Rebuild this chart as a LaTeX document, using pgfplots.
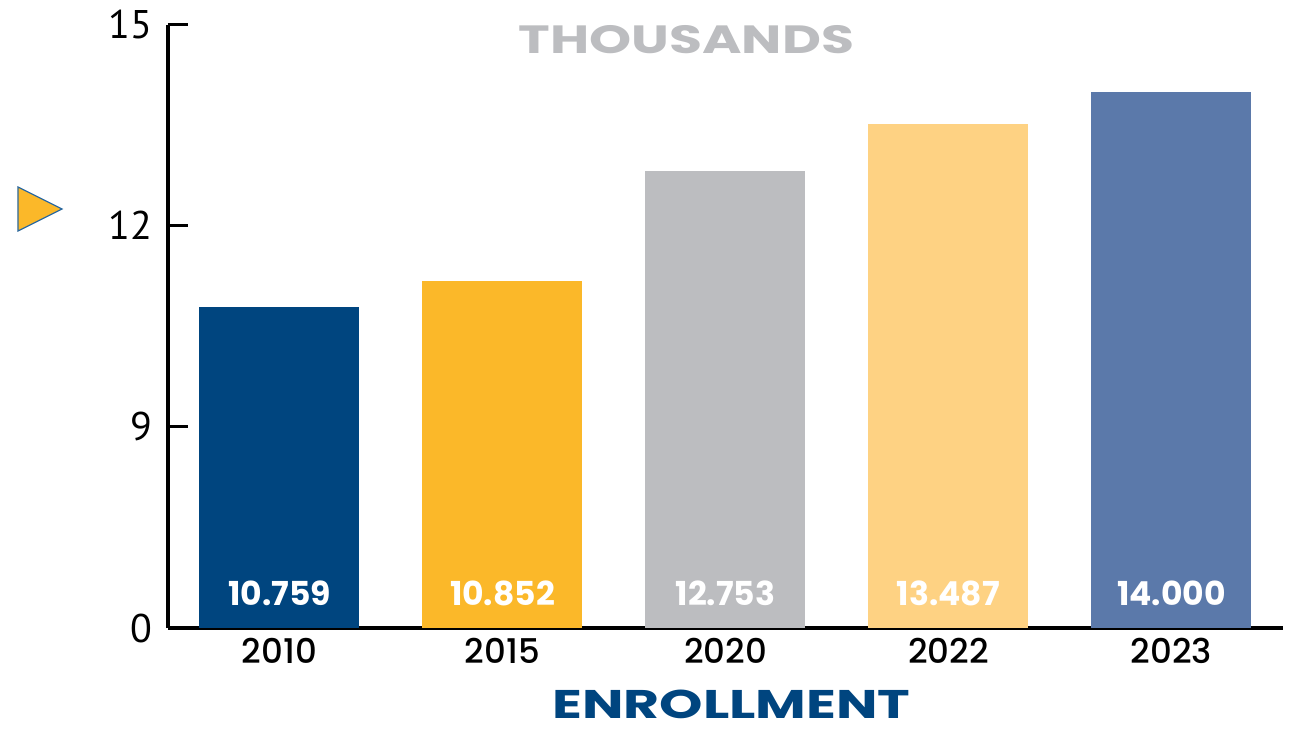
\documentclass[border=0pt]{standalone}
\usepackage{pgfplots}
\pgfplotsset{compat=1.18}
\usepackage{fontspec}
\setmainfont{Poppins}
\newfontfamily\popmed{Poppins Medium}
\newfontfamily\ptsans{PT Sans}
\definecolor{cA}{HTML}{00457F}
\definecolor{cB}{HTML}{FBB829}
\definecolor{cC}{HTML}{BCBDC0}
\definecolor{cD}{HTML}{FED283}
\definecolor{cE}{HTML}{5B79AA}
\definecolor{triedge}{HTML}{2E6A9E}
\begin{document}
\begin{tikzpicture}
\begin{axis}[
  at={(0,0)}, anchor=south west,
  scale only axis,
  width=557.5pt, height=301.75pt,
  xmin=-0.5, xmax=4.5,
  ymin=0, ymax=15,
  y coord trafo/.code={\pgfmathparse{ifthenelse(#1<9,#1/3,#1-6)}},
  y coord inv trafo/.code={\pgfmathparse{ifthenelse(#1<3,#1*3,#1+6)}},
  axis x line*=bottom, axis y line*=left,
  axis line style={line width=1.6pt, -},
  xtick={0,1,2,3,4},
  xticklabels={2010,2015,2020,2022,2023},
  major x tick style={draw=none},
  extra x ticks={0.5,1.5,2.5,3.5},
  extra x tick labels={},
  extra x tick style={major tick length=12.5pt, tick style={line width=1.4pt, black}},
  ytick={0,9,12,15},
  yticklabels={0,9,12,15},
  tick align=inside,
  major tick length=10pt,
  y tick style={line width=1.4pt, black},
  xticklabel style={font=\popmed\fontsize{17}{20}\selectfont, anchor=center, yshift=-1.5pt, inner sep=0pt},
  yticklabel style={font=\ptsans\fontsize{20}{24}\selectfont, anchor=east, inner sep=0pt, xshift=-7.5pt},
  ybar, bar width=80pt, bar shift=0pt,
  clip=false,
]
\addplot[fill=cA, draw=none] coordinates {(0,10.78)};
\addplot[fill=cB, draw=none] coordinates {(1,11.17)};
\addplot[fill=cC, draw=none] coordinates {(2,12.82)};
\addplot[fill=cD, draw=none] coordinates {(3,13.52)};
\addplot[fill=cE, draw=none] coordinates {(4,14.00)};
\foreach \i/\v in {0/10.759,1/10.852,2/12.753,3/13.487,4/14.000}{
  \edef\tmp{\noexpand\node[text=white, font=\noexpand\bfseries\noexpand\fontsize{16.5}{19}\noexpand\selectfont, anchor=center, yshift=17.5pt] at (axis cs:\i,0) {\v};}
  \tmp
}
\end{axis}
\node[text=cC, font=\bfseries\fontsize{19.7}{24}\selectfont] at (259.25pt,294pt) {\scalebox{1.36}[1]{THOUSANDS}};
\node[text=cA, font=\bfseries\fontsize{20}{24}\selectfont] at (281.75pt,-38.25pt) {\scalebox{1.38}[1]{ENROLLMENT}};
\filldraw[fill=cB, draw=triedge, line width=0.6pt] (-75pt,220.5pt) -- (-53pt,209.5pt) -- (-75pt,198.5pt) -- cycle;
\path[use as bounding box] (-84pt,-51pt) rectangle (562pt,314pt);
\end{tikzpicture}
\end{document}
